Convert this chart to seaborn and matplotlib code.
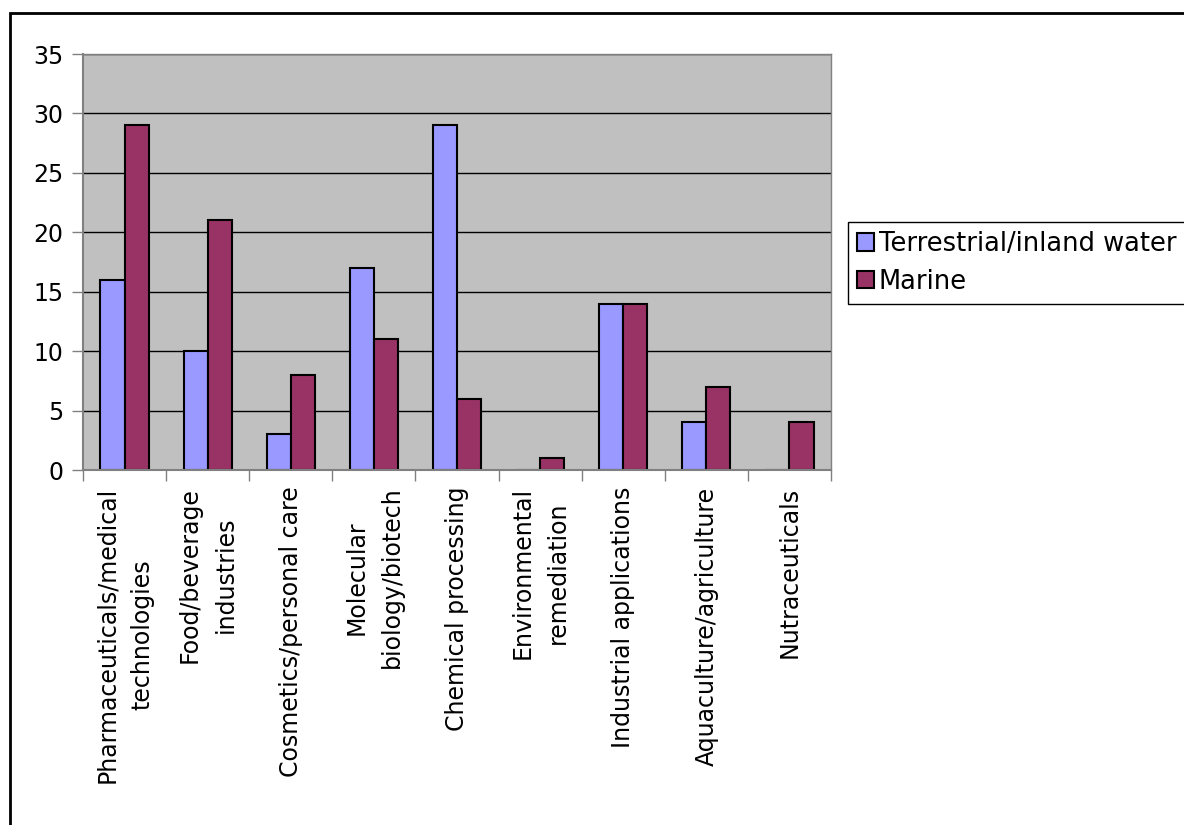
import pandas as pd
import numpy as np
import seaborn as sns
import matplotlib.pyplot as plt
from matplotlib.patches import Rectangle

categories = ['Pharmaceuticals/medical\ntechnologies', 'Food/beverage\nindustries',
              'Cosmetics/personal care', 'Molecular\nbiology/biotech',
              'Chemical processing', 'Environmental\nremediation',
              'Industrial applications', 'Aquaculture/agriculture', 'Nutraceuticals']
terrestrial = [16, 10, 3, 17, 29, 0, 14, 4, 0]
marine = [29, 21, 8, 11, 6, 1, 14, 7, 4]
series = ['Terrestrial/inland water', 'Marine']
colours = ['#9999FF', '#993366']

df = pd.DataFrame({'category': categories * 2,
                   'value': terrestrial + marine,
                   'series': [series[0]] * len(categories) + [series[1]] * len(categories)})

sns.set_style('white')
plt.rcParams['font.family'] = ['DejaVu Sans']
plt.rcParams['text.color'] = 'black'
plt.rcParams['xtick.color'] = 'black'
plt.rcParams['ytick.color'] = 'black'

fig = plt.figure(figsize=(11.84, 8.25), dpi=100)
ax = fig.add_axes([83 / 1184, 1 - 470 / 825, (831 - 83) / 1184, (470 - 54) / 825])

sns.barplot(data=df, x='category', y='value', hue='series', palette=colours,
            saturation=1, width=0.58, edgecolor='black', linewidth=1.5, gap=0, ax=ax)

ax.set_facecolor('#C0C0C0')
ax.set_ylim(0, 35)
ax.set_xlim(-0.5, len(categories) - 0.5)
ax.set_yticks(np.arange(0, 36, 5))
ax.yaxis.grid(True, color='black', linewidth=1)
ax.set_axisbelow(True)
ax.set_xlabel('')
ax.set_ylabel('')

fs = 17
ax.tick_params(axis='y', labelsize=fs, length=8, width=1, color='#808080',
               labelcolor='black', left=True, pad=6)
ax.tick_params(axis='x', which='major', labelsize=fs, length=0, pad=12,
               labelcolor='black', labelrotation=90)
for lab in ax.get_xticklabels():
    lab.set_linespacing(1.6)
ax.set_xticks(np.arange(-0.5, len(categories), 1), minor=True)
ax.tick_params(axis='x', which='minor', length=8, width=1, color='#808080', bottom=True)

for side in ['top', 'right']:
    ax.spines[side].set_color('#808080')
    ax.spines[side].set_linewidth(1)
for side in ['left', 'bottom']:
    ax.spines[side].set_color('#808080')
    ax.spines[side].set_linewidth(1.5)

leg = ax.legend(loc='upper left', bbox_to_anchor=(848 / 1184, 1 - 222 / 825),
                bbox_transform=fig.transFigure, fontsize=18.5, frameon=True,
                fancybox=False, edgecolor='black', framealpha=1,
                handlelength=0.65, handleheight=0.65, handletextpad=0.2,
                borderpad=0.35, labelspacing=0.45, borderaxespad=0)
leg.get_frame().set_linewidth(1)
for h in leg.legend_handles:
    h.set_edgecolor('black')
    h.set_linewidth(1.5)

# outer chart border, cut off at right and bottom like the original
fig.patches.append(Rectangle((10 / 1184, -0.1), 1.2, 1 - 13 / 825 + 0.1,
                             transform=fig.transFigure, fill=False,
                             edgecolor='black', linewidth=2, zorder=10))

fig.savefig('out.png', dpi=100)
